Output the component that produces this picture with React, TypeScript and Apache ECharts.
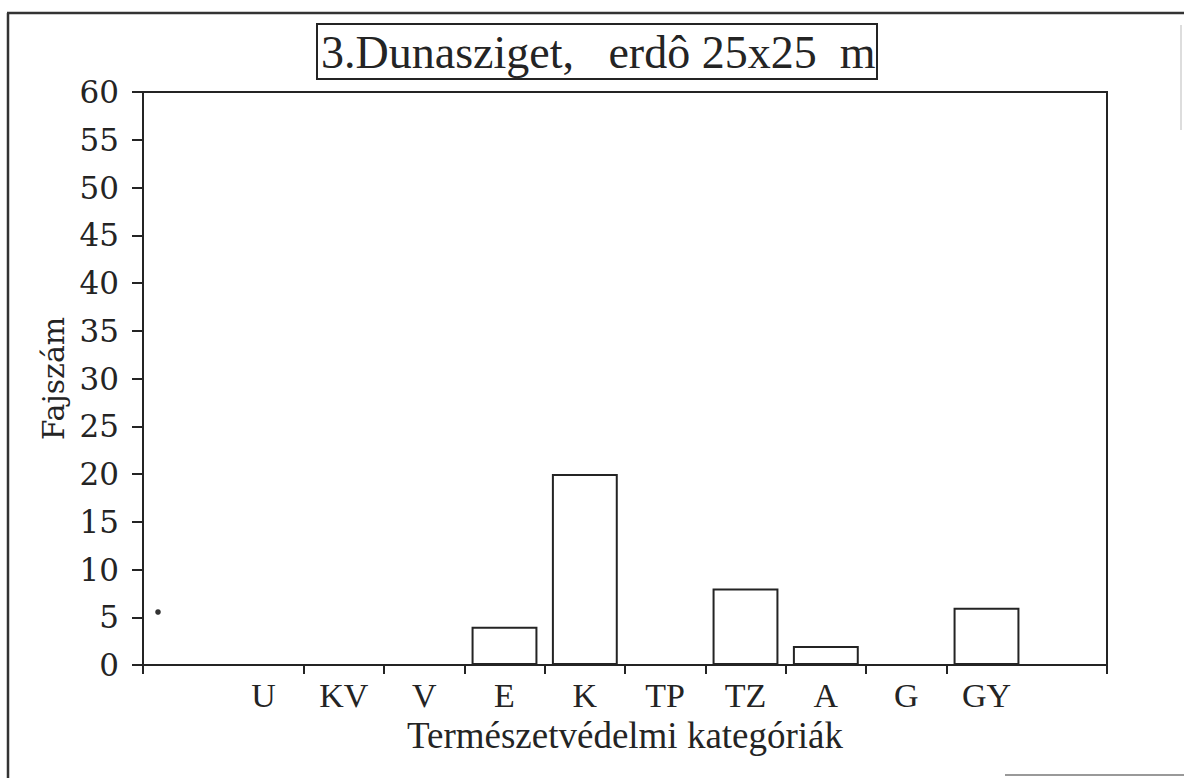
import React, { useEffect, useRef } from "react";
import * as echarts from "echarts";

const categories = ["", "U", "KV", "V", "E", "K", "TP", "TZ", "A", "G", "GY", ""];
const speciesCounts: (number | string)[] = ["-", 0, 0, 0, 4, 20, 0, 8, 2, 0, 6, "-"];
const yMin = 0;
const yMax = 60;
const yStep = 5;
const titleText = "3.Dunasziget,\u00a0\u00a0\u00a0erdô 25x25\u00a0\u00a0m";
const xName = "Természetvédelmi kategóriák";
const yName = "Fajszám";

const INK = "#242424";
const SERIF = "Liberation Serif";
const WIDE_SERIF = "DejaVu Serif";

export default function App() {
  const ref = useRef<HTMLDivElement>(null);
  useEffect(() => {
    if (!ref.current) return;
    const chart = echarts.init(ref.current, null, { renderer: "svg" });
    chart.setOption({
      animation: false,
      backgroundColor: "#ffffff",
      grid: {
        left: 143,
        top: 92,
        width: 964,
        height: 573,
        show: true,
        borderColor: INK,
        borderWidth: 2,
        backgroundColor: "transparent",
        containLabel: false,
      },
      xAxis: {
        type: "category",
        data: categories,
        boundaryGap: true,
        name: xName,
        nameLocation: "middle",
        nameGap: 49,
        nameTextStyle: {
          fontFamily: SERIF,
          fontSize: 37,
          color: INK,
        },
        axisLine: { show: true, lineStyle: { color: INK, width: 2 } },
        axisTick: {
          show: true,
          length: 9,
          interval: (index: number) => index !== 1 && index !== categories.length - 1,
          lineStyle: { color: INK, width: 2 },
        },
        axisLabel: {
          interval: 0,
          margin: 13,
          fontFamily: SERIF,
          fontSize: 34,
          color: INK,
        },
        splitLine: { show: false },
      },
      yAxis: {
        type: "value",
        min: yMin,
        max: yMax,
        interval: yStep,
        name: yName,
        nameLocation: "middle",
        nameGap: 69,
        nameTextStyle: {
          fontFamily: WIDE_SERIF,
          fontSize: 30,
          color: INK,
        },
        axisLine: { show: true, lineStyle: { color: INK, width: 2 } },
        axisTick: { show: true, length: 11, lineStyle: { color: INK, width: 2 } },
        axisLabel: {
          margin: 24,
          fontFamily: WIDE_SERIF,
          fontSize: 31,
          color: INK,
        },
        splitLine: { show: false },
      },
      series: [
        {
          type: "bar",
          data: speciesCounts,
          barWidth: "82%",
          itemStyle: {
            color: "transparent",
            borderColor: INK,
            borderWidth: 2,
          },
        },
      ],
      graphic: [
        { type: "line", shape: { x1: 8, y1: 13, x2: 8, y2: 778 }, style: { stroke: "#333", lineWidth: 2.5 } },
        { type: "line", shape: { x1: 7, y1: 13, x2: 1184, y2: 13 }, style: { stroke: "#333", lineWidth: 2.5 } },
        { type: "line", shape: { x1: 1005, y1: 775, x2: 1184, y2: 775 }, style: { stroke: "#999", lineWidth: 2 } },
        { type: "line", shape: { x1: 1181, y1: 25, x2: 1181, y2: 130 }, style: { stroke: "#ddd", lineWidth: 2 } },
        { type: "circle", shape: { cx: 158, cy: 612, r: 2.8 }, style: { fill: "#333" } },
        {
          type: "rect",
          shape: { x: 317, y: 24, width: 560, height: 55 },
          style: { fill: "none", stroke: INK, lineWidth: 2 },
        },
        {
          type: "text",
          x: 321,
          y: 52,
          style: {
            text: titleText,
            fontFamily: SERIF,
            fontSize: 46,
            fontWeight: "normal",
            fill: INK,
            align: "left",
            verticalAlign: "middle",
          },
        },
      ],
    });
    return () => chart.dispose();
  }, []);
  return (
    <div
      ref={ref}
      style={{ position: "fixed", left: 0, top: 0, width: 1184, height: 778 }}
    />
  );
}
